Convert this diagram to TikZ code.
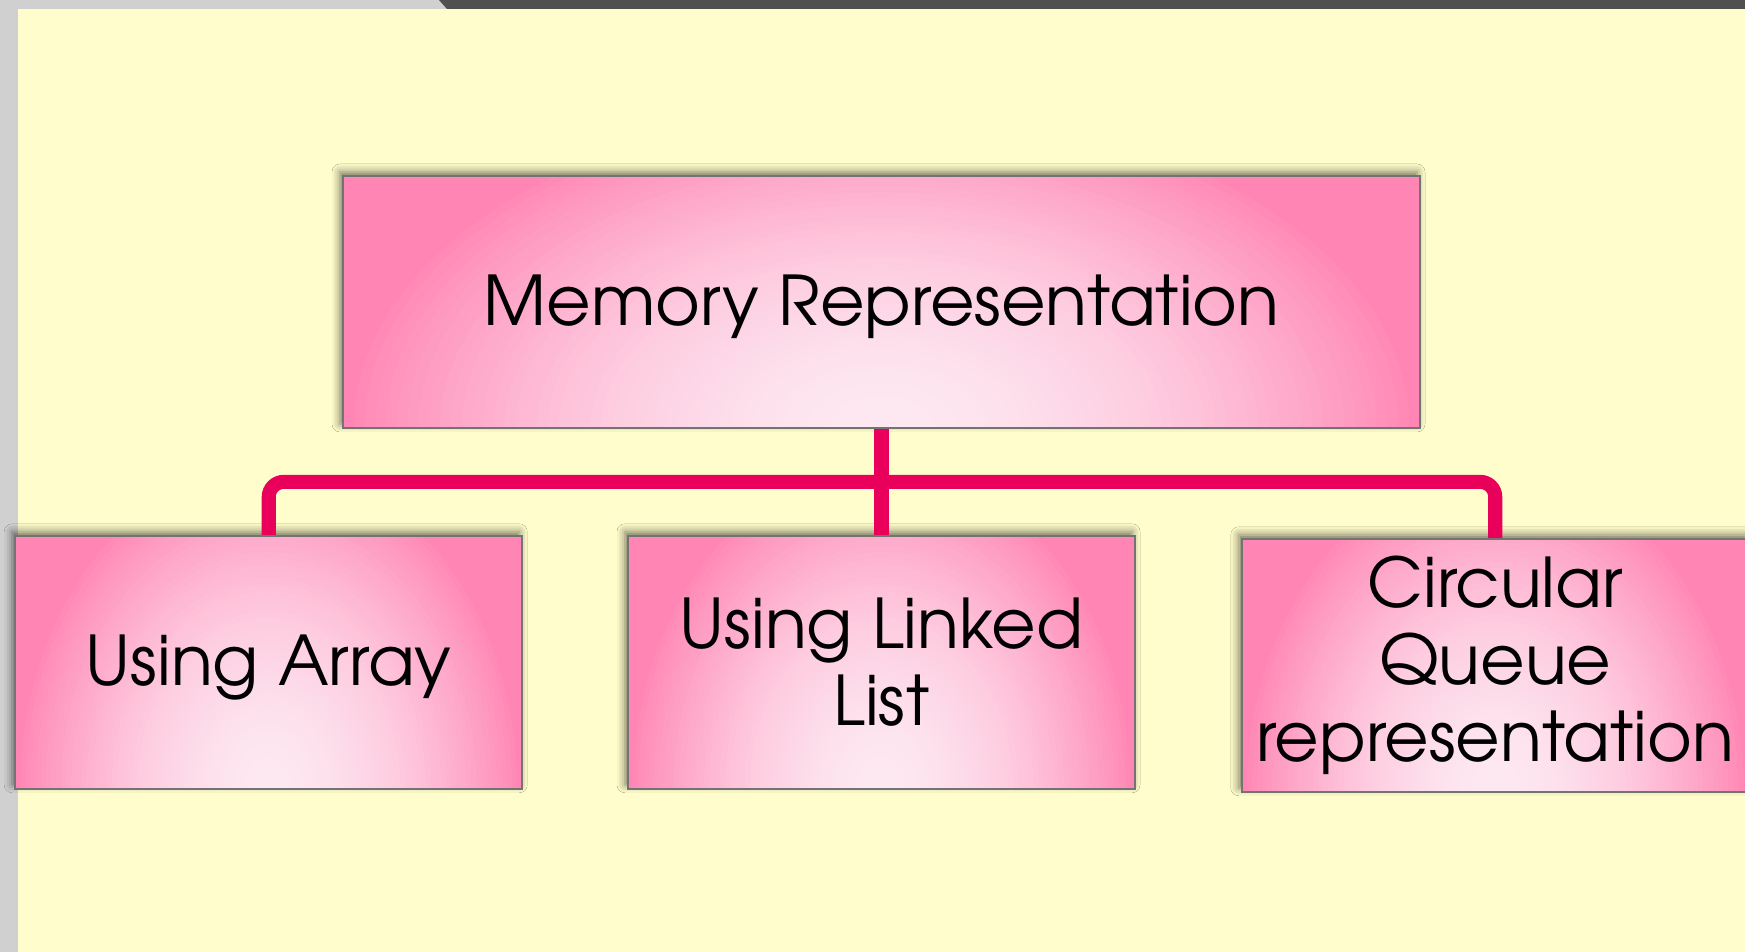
\documentclass[tikz,border=0pt]{standalone}
\usepackage{fontspec}
\setmainfont{TeX Gyre Adventor}
\usetikzlibrary{positioning,calc,shadows.blur}

\definecolor{pageyellow}{RGB}{255,253,203}
\definecolor{pagegrey}{RGB}{208,208,208}
\definecolor{bardark}{RGB}{80,80,80}
\definecolor{pinkedge}{RGB}{255,134,180}
\definecolor{pinklight}{RGB}{253,232,241}
\definecolor{linkred}{RGB}{232,0,90}

% glow from the bottom middle of a box, drawn as stacked ellipses
\newcommand{\pinkglow}{%
  \pgfpointdiff{\pgfpointanchor{path picture bounding box}{south west}}{\pgfpointanchor{path picture bounding box}{north east}}%
  \pgfgetlastxy{\boxw}{\boxh}%
  \fill[pinkedge] (path picture bounding box.south west) rectangle (path picture bounding box.north east);
  \foreach \k [evaluate=\k as \pc using {int(100*(\k/50)^1.8)}] in {50,...,1}
    \fill[pinkedge!\pc!pinklight] (path picture bounding box.south) ellipse [x radius={\k/100*\boxw}, y radius={\k*0.026*\boxh}];
}

\tikzset{
  membox/.style={rectangle, draw=black!55, line width=0.5pt,
    minimum width=5.07cm, minimum height=2.53cm, inner sep=0pt,
    align=center, font=\fontsize{19.5}{22}\selectfont,
    blur shadow={shadow xshift=-0.3mm, shadow yshift=0.4mm, shadow blur radius=0.8mm, shadow opacity=55},
    path picture={\pinkglow}},
  link/.style={draw=linkred, line width=4pt, rounded corners=1.5mm}
}

\begin{document}
\begin{tikzpicture}
  % page
  \fill[pagegrey] (0,0) rectangle (17.45,9.52);
  \fill[pageyellow] (0.18,0) rectangle (17.45,9.43);
  \fill[bardark] (4.39,9.52) -- (17.45,9.52) -- (17.45,9.43) -- (4.47,9.43) -- cycle;
  \useasboundingbox (0,0) rectangle (17.45,9.52);

  % boxes
  \node[membox, minimum width=10.77cm, minimum height=2.52cm, text depth=1pt] (mem) at (8.815,6.50) {Memory Representation};
  \node[membox, below=1.06cm of mem] (lnk) {Using Linked\\List};
  \node[membox, left=1.04cm of lnk, text depth=1pt] (arr) {Using Array};
  \node[membox, right=1.05cm of lnk, yshift=-0.3mm] (cq) {Circular\\Queue\\representation};

  % connectors
  \coordinate (bus) at ($(mem.south)!0.5!(lnk.north)$);
  \draw[link] (mem.south) -- (lnk.north);
  \draw[link] (arr.north) |- (bus) -| (cq.north);
\end{tikzpicture}
\end{document}
